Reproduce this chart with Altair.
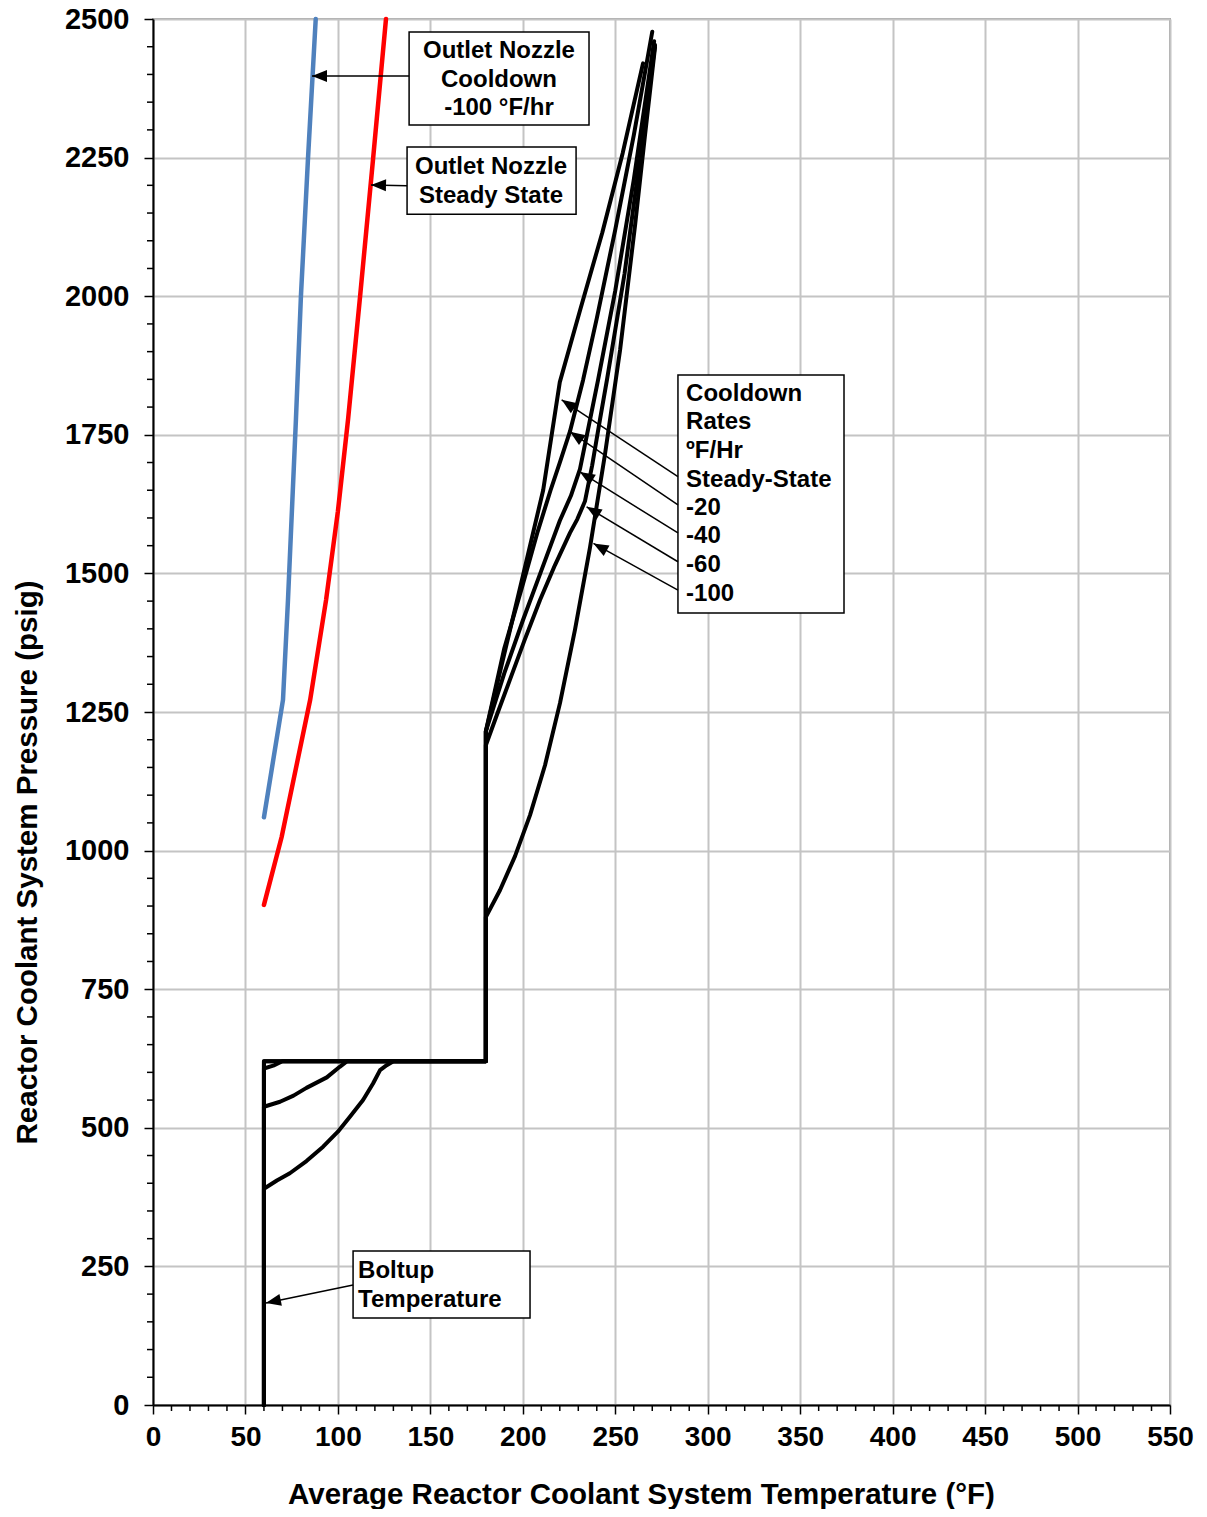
import math
import altair as alt
import pandas as pd

# ---------------- data ----------------
# Outlet nozzle curves
blue_T = [60, 70.3, 73, 77.3, 80, 83.8, 88]
blue_P = [1060, 1272, 1452, 1778, 2000, 2247, 2500]
red_T = [60, 69.6, 85, 93.6, 100, 105.5, 112, 119, 126]
red_P = [902, 1025, 1272, 1452, 1612, 1778, 2000, 2247, 2500]

# Composite cooldown curves (boltup line, lower curve, 620 plateau, step at 180, upper curve)
ss_T = [60, 60, 180, 180, 190, 200, 211, 220, 231, 243, 254, 265]
ss_P = [0, 620, 620, 1215, 1355, 1495, 1650, 1845, 1975, 2115, 2258, 2420]
m20_T = [60, 60, 180, 180, 190, 200, 208, 215, 220, 225.5, 232.6, 240, 250, 260, 270]
m20_P = [0, 620, 620, 1215, 1365, 1480, 1575, 1650, 1700, 1756, 1849, 1960, 2120, 2290, 2477]
m40_T = [60, 60, 65, 70, 180, 180, 190, 200, 210, 220, 226, 230.9, 235.3, 240.7, 250, 260, 271]
m40_P = [0, 607, 612, 620, 620, 1215, 1320, 1415, 1505, 1595, 1640, 1688, 1760, 1849, 2010, 2210, 2460]
m60_T = [60, 60, 68.7, 76, 83, 94, 101, 105, 180, 180, 186, 193, 201, 209.3, 217.4, 225.5, 229.5,
         233.6, 237.5, 241.7, 245.5, 255, 263, 271.5]
m60_P = [0, 538, 547, 558, 572, 591, 610, 620, 620, 1190, 1245, 1308, 1380, 1452, 1515, 1573, 1598,
         1630, 1695, 1777, 1849, 2040, 2240, 2453]
m100_T = [60, 60, 67, 74, 83, 92, 100, 106.5, 113.6, 119, 122.8, 126.4, 130, 180, 180, 187.7, 195.8,
          203.9, 212, 220.1, 228.2, 236.3, 244.4, 252.6, 260.7, 266.1, 271.5]
m100_P = [0, 390, 405, 418, 440, 466, 493, 520, 550, 580, 604, 613, 620, 620, 880, 929, 990,
          1064, 1154, 1266, 1398, 1546, 1714, 1903, 2128, 2291, 2449]

# minor tick positions
x_minor = [v for v in range(0, 551, 10) if v % 50 != 0]
y_minor = [v for v in range(0, 2501, 50) if v % 250 != 0]

# annotation boxes
box_T1 = [138.5, 137.4, 283.9, 108.2]
box_T2 = [235.8, 228.8, 373.7, 203.9]
box_P1 = [2308.8, 2148, 1428.6, 157]
box_P2 = [2476.6, 2269, 1858, 277.8]

# centred texts
ctext = ["Outlet Nozzle", "Cooldown", "-100 °F/hr", "Outlet Nozzle", "Steady State"]
ctext_T = [187.1, 187.1, 187.1, 182.8, 182.8]
ctext_P = [2442, 2390, 2340, 2233, 2181]
# left-aligned texts
ltext = ["Cooldown", "Rates", "ºF/Hr", "Steady-State", "-20", "-40", "-60", "-100", "Boltup", "Temperature"]
ltext_T = [288.3] * 8 + [110.9, 110.9]
ltext_P = [1823.6, 1773, 1721, 1668.5, 1618, 1567.5, 1515, 1463, 241.7, 189.4]

# arrows: tail -> tip
arr_T1 = [138.5, 137.4, 283.9, 283.9, 283.9, 283.9, 283.9, 108.2]
arr_P1 = [2397, 2199, 1674.5, 1623.4, 1572.9, 1521, 1470, 216.5]
arr_T2 = [86.0, 117.9, 221, 225.5, 230.9, 234.5, 238.2, 61.1]
arr_P2 = [2397, 2200.6, 1813, 1755.6, 1683, 1620, 1554, 184]

# ---------------- layout ----------------
W, H = 1017, 1386
XMAX, YMAX = 550, 2500
FONT = "Liberation Sans"

rows = []
for name, Ts, Ps in [("ss", ss_T, ss_P), ("m20", m20_T, m20_P), ("m40", m40_T, m40_P),
                     ("m60", m60_T, m60_P), ("m100", m100_T, m100_P)]:
    for i, (t, p) in enumerate(zip(Ts, Ps)):
        rows.append({"curve": name, "idx": i, "T": t, "P": p})
black_df = pd.DataFrame(rows)
blue_df = pd.DataFrame({"T": blue_T, "P": blue_P, "idx": range(len(blue_T))})
red_df = pd.DataFrame({"T": red_T, "P": red_P, "idx": range(len(red_T))})

xs = alt.Scale(domain=[0, XMAX], nice=False, zero=False)
ys = alt.Scale(domain=[0, YMAX], nice=False, zero=False)

xaxis = alt.Axis(values=list(range(0, 551, 50)), title="Average Reactor Coolant System Temperature (°F)",
                 format="d", grid=True, gridColor="#C4C4C4", gridWidth=2, domainColor="black",
                 domainWidth=2, tickColor="black", tickSize=9, tickWidth=1.5, labelFont=FONT,
                 labelFontSize=28, labelFontWeight="bold", labelColor="black", labelPadding=9,
                 titleFont=FONT, titleFontSize=29.5, titleFontWeight="bold", titleColor="black",
                 titleX=488, titleY=89, titleBaseline="middle", titleAlign="center", labelFlush=False)
yaxis = alt.Axis(values=list(range(0, 2501, 250)), title="Reactor Coolant System Pressure (psig)",
                 format="d", grid=True, gridColor="#C4C4C4", gridWidth=2, domainColor="black",
                 domainWidth=2, tickColor="black", tickSize=9, tickWidth=1.5, labelFont=FONT,
                 labelFontSize=29, labelFontWeight="bold", labelColor="black", labelPadding=15,
                 titleFont=FONT, titleFontSize=29.5, titleFontWeight="bold", titleColor="black",
                 titleX=-126, titleY=843, titleBaseline="middle", titleAlign="center", titleAngle=270,
                 labelFlush=False)


def X(f="T"):
    return alt.X(f + ":Q", scale=xs, axis=xaxis)


def Y(f="P"):
    return alt.Y(f + ":Q", scale=ys, axis=yaxis)


black = alt.Chart(black_df).mark_line(color="black", strokeWidth=4, strokeCap="round", strokeJoin="round").encode(
    x=X(), y=Y(), detail="curve:N", order="idx:Q")
blue = alt.Chart(blue_df).mark_line(color="#4F81BD", strokeWidth=4.5, strokeCap="round").encode(
    x=X(), y=Y(), order="idx:Q")
red = alt.Chart(red_df).mark_line(color="#FF0000", strokeWidth=4.5, strokeCap="round").encode(
    x=X(), y=Y(), order="idx:Q")

xminor = alt.Chart(pd.DataFrame({"T": x_minor})).mark_rule(color="black", strokeWidth=1.5).encode(
    x=X(), y=alt.value(H), y2=alt.value(H + 6))
yminor = alt.Chart(pd.DataFrame({"P": y_minor})).mark_rule(color="black", strokeWidth=1.5).encode(
    y=Y(), x=alt.value(0), x2=alt.value(-6))

boxes = alt.Chart(pd.DataFrame({"T": box_T1, "T2": box_T2, "P": box_P1, "P2": box_P2})).mark_rect(
    fill="white", stroke="black", strokeWidth=1.5).encode(x=X(), x2="T2:Q", y=Y(), y2="P2:Q")

ct = alt.Chart(pd.DataFrame({"T": ctext_T, "P": ctext_P, "txt": ctext})).mark_text(
    font=FONT, fontSize=24, fontWeight="bold", color="black", align="center", baseline="middle").encode(
    x=X(), y=Y(), text="txt:N")
lt = alt.Chart(pd.DataFrame({"T": ltext_T, "P": ltext_P, "txt": ltext})).mark_text(
    font=FONT, fontSize=24, fontWeight="bold", color="black", align="left", baseline="middle").encode(
    x=X(), y=Y(), text="txt:N")

arr_df = pd.DataFrame({"T": arr_T1, "P": arr_P1, "T2": arr_T2, "P2": arr_P2})
angs = []
for t1, p1, t2, p2 in zip(arr_T1, arr_P1, arr_T2, arr_P2):
    dx = (t2 - t1) * W / XMAX
    dy = -(p2 - p1) * H / YMAX
    angs.append(math.degrees(math.atan2(dx, -dy)) % 360)
head_df = pd.DataFrame({"T": arr_T2, "P": arr_P2, "ang": angs})

arr_lines = alt.Chart(arr_df).mark_rule(color="black", strokeWidth=1.5).encode(
    x=X(), y=Y(), x2="T2:Q", y2="P2:Q")
heads = alt.Chart(head_df).mark_point(shape="M0,0L-0.4,1L0.4,1Z", filled=True, fill="black",
                                      color="black", opacity=1, size=900, strokeWidth=0).encode(
    x=X(), y=Y(), angle=alt.Angle("ang:Q", scale=None))

chart = alt.layer(black, blue, red, xminor, yminor, boxes, arr_lines, heads, ct, lt).properties(
    width=W, height=H, padding={"left": 145, "top": 11, "right": 28, "bottom": 104},
    autosize=alt.AutoSizeParams(type="none"),
    background="white",
).configure_view(stroke="#A6A6A6", strokeWidth=2)

chart.save("out.html", embed_options={"renderer": "svg", "actions": False})
